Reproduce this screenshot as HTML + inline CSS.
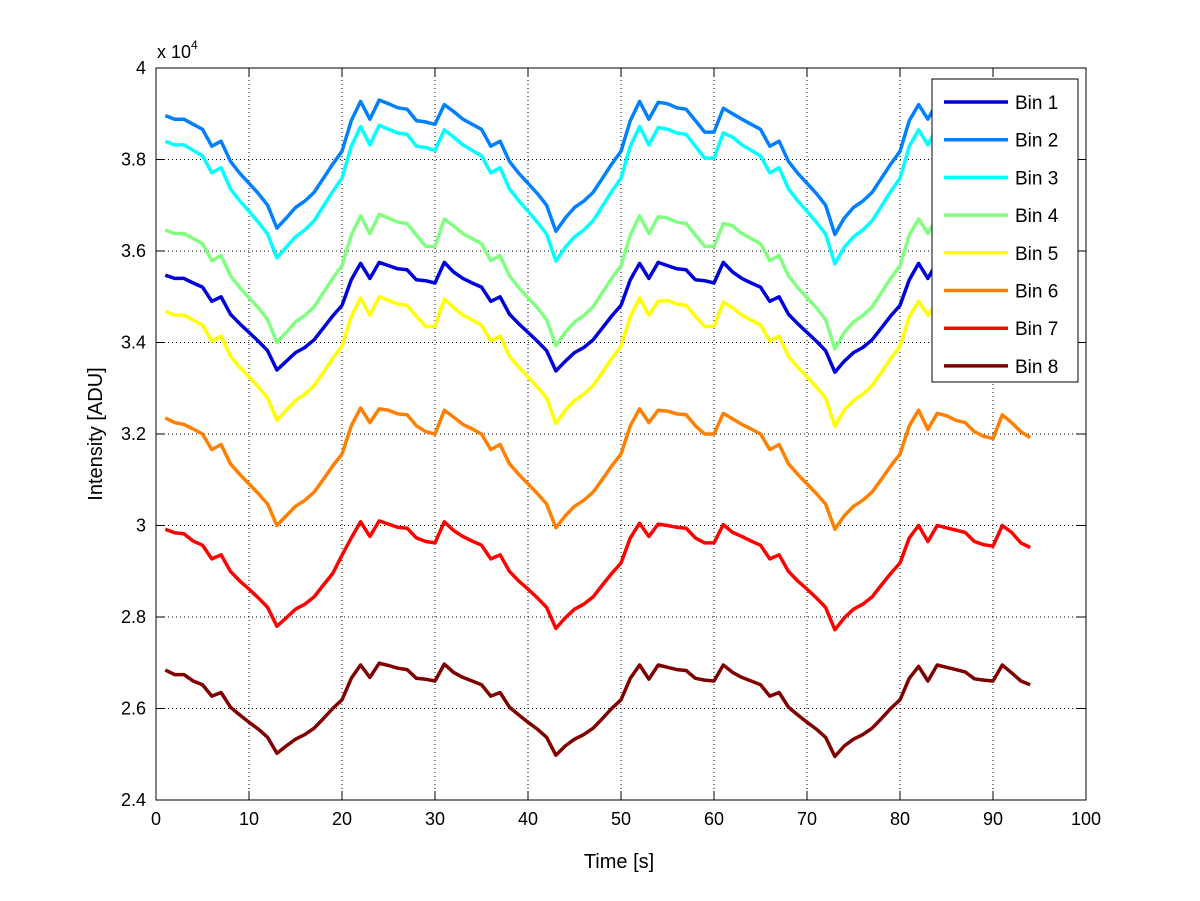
<!DOCTYPE html>
<html><head><meta charset="utf-8"><style>
body{margin:0;background:#fff;}
svg{display:block;font-family:"Liberation Sans",Arial,sans-serif;}
</style></head><body>
<svg id="chart" width="1200" height="901" viewBox="0 0 1200 901"></svg>
<script>
const xTicks=[0,10,20,30,40,50,60,70,80,90,100];
const yTicks=[2.4,2.6,2.8,3,3.2,3.4,3.6,3.8,4];
const yTickLabels=["2.4","2.6","2.8","3","3.2","3.4","3.6","3.8","4"];
const seriesNames=["Bin 1","Bin 2","Bin 3","Bin 4","Bin 5","Bin 6","Bin 7","Bin 8"];
const seriesColors=["#0000dd","#0080ff","#00ffff","#80ff80","#ffff00","#ff8000","#ff0000","#800000"];
const bin1=[3.547,3.540,3.540,3.530,3.521,3.490,3.500,3.462,3.441,3.422,3.403,3.382,3.340,3.359,3.378,3.389,3.406,3.432,3.458,3.481,3.537,3.573,3.540,3.575,3.568,3.561,3.559,3.537,3.535,3.530,
3.575,3.554,3.540,3.530,3.521,3.490,3.500,3.462,3.441,3.422,3.403,3.382,3.338,3.359,3.378,3.389,3.406,3.432,3.458,3.481,3.537,3.573,3.540,3.575,3.568,3.561,3.559,3.537,3.535,3.530,
3.575,3.554,3.540,3.530,3.521,3.490,3.500,3.462,3.441,3.422,3.403,3.382,3.335,3.359,3.378,3.389,3.406,3.432,3.458,3.481,3.537,3.573,3.540,3.575,3.568,3.561,3.559,3.537,3.535,3.530,
3.575,3.554,3.540,3.530];
const bin2=[3.896,3.888,3.888,3.877,3.866,3.829,3.840,3.796,3.770,3.748,3.726,3.700,3.650,3.672,3.695,3.709,3.728,3.759,3.790,3.818,3.885,3.927,3.888,3.930,3.922,3.913,3.910,3.885,3.882,3.877,
3.920,3.905,3.888,3.877,3.866,3.829,3.840,3.796,3.770,3.748,3.726,3.700,3.643,3.672,3.695,3.709,3.728,3.759,3.790,3.818,3.885,3.927,3.888,3.925,3.922,3.913,3.910,3.885,3.860,3.860,
3.912,3.900,3.888,3.877,3.866,3.829,3.840,3.796,3.770,3.748,3.726,3.700,3.636,3.672,3.695,3.709,3.728,3.759,3.790,3.818,3.885,3.920,3.888,3.925,3.922,3.913,3.910,3.885,3.882,3.877,
3.920,3.905,3.888,3.877];
const bin3=[3.840,3.832,3.832,3.820,3.808,3.771,3.782,3.736,3.710,3.687,3.663,3.637,3.585,3.608,3.631,3.646,3.666,3.698,3.730,3.759,3.829,3.872,3.832,3.875,3.866,3.858,3.855,3.829,3.826,3.820,
3.865,3.849,3.832,3.820,3.808,3.771,3.782,3.736,3.710,3.687,3.663,3.637,3.578,3.608,3.631,3.646,3.666,3.698,3.730,3.759,3.829,3.872,3.832,3.870,3.866,3.858,3.855,3.829,3.803,3.803,
3.858,3.849,3.832,3.820,3.808,3.771,3.782,3.736,3.710,3.687,3.663,3.637,3.572,3.608,3.631,3.646,3.666,3.698,3.730,3.759,3.829,3.865,3.832,3.870,3.866,3.858,3.855,3.829,3.826,3.820,
3.865,3.849,3.832,3.820];
const bin4=[3.646,3.638,3.638,3.627,3.616,3.579,3.590,3.546,3.520,3.498,3.476,3.450,3.400,3.422,3.445,3.459,3.478,3.509,3.540,3.568,3.635,3.677,3.638,3.680,3.672,3.663,3.660,3.635,3.610,3.610,
3.670,3.655,3.638,3.627,3.616,3.579,3.590,3.546,3.520,3.498,3.476,3.450,3.393,3.422,3.445,3.459,3.478,3.509,3.540,3.568,3.635,3.677,3.638,3.675,3.672,3.663,3.660,3.635,3.610,3.610,
3.660,3.655,3.638,3.627,3.616,3.579,3.590,3.546,3.520,3.498,3.476,3.450,3.386,3.422,3.445,3.459,3.478,3.509,3.540,3.568,3.635,3.670,3.638,3.675,3.672,3.663,3.660,3.635,3.632,3.627,
3.670,3.655,3.638,3.627];
const bin5=[3.468,3.460,3.460,3.449,3.438,3.403,3.414,3.370,3.346,3.325,3.303,3.279,3.230,3.252,3.273,3.287,3.306,3.335,3.365,3.392,3.457,3.497,3.460,3.500,3.492,3.484,3.481,3.457,3.435,3.435,
3.495,3.476,3.460,3.449,3.438,3.403,3.414,3.370,3.346,3.325,3.303,3.279,3.223,3.252,3.273,3.287,3.306,3.335,3.365,3.392,3.457,3.497,3.460,3.490,3.492,3.484,3.481,3.457,3.435,3.435,
3.488,3.476,3.460,3.449,3.438,3.403,3.414,3.370,3.346,3.325,3.303,3.279,3.217,3.252,3.273,3.287,3.306,3.335,3.365,3.392,3.457,3.490,3.460,3.490,3.492,3.484,3.481,3.457,3.454,3.449,
3.495,3.476,3.460,3.449];
const bin6=[3.235,3.225,3.221,3.211,3.200,3.166,3.177,3.135,3.112,3.091,3.070,3.047,3.000,3.021,3.042,3.055,3.073,3.101,3.130,3.156,3.218,3.257,3.225,3.255,3.252,3.244,3.242,3.218,3.205,3.200,
3.252,3.237,3.221,3.211,3.200,3.166,3.177,3.135,3.112,3.091,3.070,3.047,2.995,3.021,3.042,3.055,3.073,3.101,3.130,3.156,3.218,3.255,3.225,3.252,3.250,3.244,3.242,3.218,3.200,3.200,
3.245,3.233,3.221,3.211,3.200,3.166,3.177,3.135,3.112,3.091,3.070,3.047,2.992,3.021,3.042,3.055,3.073,3.101,3.130,3.156,3.218,3.252,3.210,3.245,3.240,3.230,3.225,3.205,3.195,3.190,
3.242,3.225,3.205,3.192];
const bin7=[2.992,2.984,2.982,2.966,2.957,2.927,2.936,2.900,2.879,2.861,2.842,2.821,2.780,2.798,2.817,2.828,2.844,2.870,2.895,2.935,2.973,3.008,2.976,3.010,3.003,2.996,2.994,2.973,2.965,2.962,
3.008,2.989,2.976,2.966,2.957,2.927,2.936,2.900,2.879,2.861,2.842,2.821,2.775,2.798,2.817,2.828,2.844,2.870,2.895,2.918,2.973,3.005,2.976,3.003,3.000,2.996,2.994,2.973,2.962,2.962,
3.002,2.985,2.976,2.966,2.957,2.927,2.936,2.900,2.879,2.861,2.842,2.821,2.772,2.798,2.817,2.828,2.844,2.870,2.895,2.918,2.973,3.000,2.965,3.000,2.995,2.990,2.985,2.965,2.958,2.955,
3.000,2.985,2.962,2.952];
const bin8=[2.684,2.674,2.674,2.660,2.652,2.627,2.635,2.603,2.586,2.570,2.555,2.537,2.502,2.518,2.533,2.543,2.557,2.578,2.600,2.619,2.666,2.695,2.668,2.699,2.694,2.688,2.685,2.666,2.664,2.660,
2.697,2.679,2.668,2.660,2.652,2.627,2.635,2.603,2.586,2.570,2.555,2.537,2.498,2.518,2.533,2.543,2.557,2.578,2.600,2.619,2.666,2.695,2.664,2.695,2.690,2.685,2.683,2.666,2.662,2.660,
2.695,2.679,2.668,2.660,2.652,2.627,2.635,2.603,2.586,2.570,2.555,2.537,2.495,2.518,2.533,2.543,2.557,2.578,2.600,2.619,2.666,2.692,2.660,2.695,2.690,2.685,2.680,2.665,2.662,2.660,
2.695,2.678,2.660,2.652];
const seriesValues=[bin1,bin2,bin3,bin4,bin5,bin6,bin7,bin8];

const NS="http://www.w3.org/2000/svg";
const svg=document.getElementById('chart');
const L=156,R=1086,T=68,B=800;
const xMin=0,xMax=100,yMin=2.4,yMax=4;
function xs(v){return L+(v-xMin)/(xMax-xMin)*(R-L);}
function ys(v){return B-(v-yMin)/(yMax-yMin)*(B-T);}
function mk(tag,attrs,parent){const e=document.createElementNS(NS,tag);for(const k in attrs)e.setAttribute(k,attrs[k]);(parent||svg).appendChild(e);return e;}

const grid=mk('g',{});


xTicks.forEach((t,i)=>{
  const x=xs(t);
  if(i>0&&i<xTicks.length-1){const g=mk('line',{x1:x,x2:x,y1:T,y2:B,stroke:'#000','stroke-width':1,'stroke-dasharray':'1,3'},grid);
  
  }
  mk('line',{x1:x,x2:x,y1:B,y2:B-9,stroke:'#000'});
  mk('line',{x1:x,x2:x,y1:T,y2:T+9,stroke:'#000'});
  const lb=mk('text',{x:x,y:B+25,'font-size':18,'text-anchor':'middle',fill:'#000'});
  lb.textContent=String(t);
  
  
});
yTicks.forEach((t,i)=>{
  const y=ys(t);
  if(i>0&&i<yTicks.length-1){const g=mk('line',{x1:L,x2:R,y1:y,y2:y,stroke:'#000','stroke-width':1,'stroke-dasharray':'1,3'},grid);
  
  }
  mk('line',{x1:L,x2:L+9,y1:y,y2:y,stroke:'#000'});
  mk('line',{x1:R,x2:R-9,y1:y,y2:y,stroke:'#000'});
  const lb=mk('text',{x:L-10,y:y+6,'font-size':18,'text-anchor':'end',fill:'#000'});
  lb.textContent=yTickLabels[i];
  
  
});
const box=mk('rect',{x:L,y:T,width:R-L,height:B-T,fill:'none',stroke:'#000','stroke-width':1});



seriesValues.forEach((vals,si)=>{
  const pts=vals.map((v,i)=>xs(i+1).toFixed(1)+','+ys(v).toFixed(1)).join(' ');
  const p=mk('polyline',{points:pts,fill:'none',stroke:seriesColors[si],'stroke-width':3.5,'stroke-linejoin':'round'});
  
  
});

const exp=mk('text',{x:157,y:58,'font-size':18,fill:'#000'});


exp.innerHTML='x 10<tspan dy="-9" font-size="12">4</tspan>';
const xt=mk('text',{x:619,y:868,'font-size':20,'text-anchor':'middle',fill:'#000'});
xt.textContent='Time [s]';


const yt=mk('text',{x:0,y:0,'font-size':20,'text-anchor':'middle',fill:'#000',transform:'translate(102,434) rotate(-90)'});
yt.textContent='Intensity [ADU]';



const lg=mk('g',{});


mk('rect',{x:932,y:79,width:146,height:303,fill:'#fff',stroke:'#000','stroke-width':1},lg);
seriesNames.forEach((n,i)=>{
  const y=102+i*37.7;
  const ll=mk('line',{x1:944,x2:1008,y1:y,y2:y,stroke:seriesColors[i],'stroke-width':3.5},lg);
  
  
  const lt=mk('text',{x:1015,y:y+7,'font-size':19,fill:'#000'},lg);
  lt.textContent=n;
  
  
});
</script>
</body></html>
